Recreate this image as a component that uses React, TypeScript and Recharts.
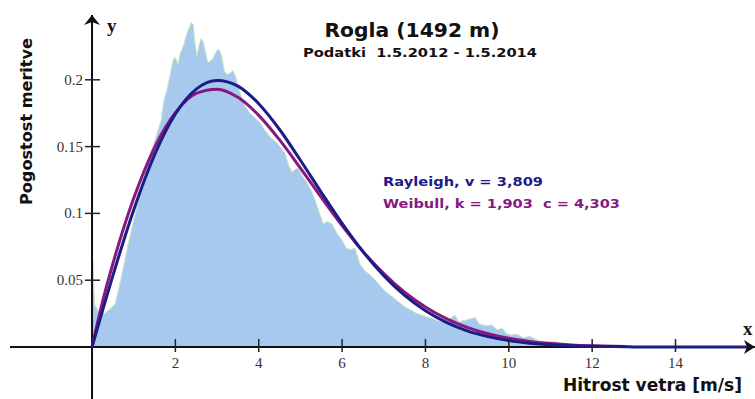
import { ComposedChart, Area, Line, XAxis, YAxis, ReferenceLine, ReferenceDot } from 'recharts';

// measured wind speed histogram (m/s -> relative frequency)
const HIST_X = [
  0, 0.02, 0.06, 0.15, 0.3, 0.45, 0.55, 0.63, 0.7, 0.78, 0.86, 0.95, 1.03, 1.1, 1.18, 1.26, 1.34, 1.42, 1.5, 1.58,
  1.66, 1.72, 1.8, 1.88, 1.95, 2.0, 2.06, 2.12, 2.2, 2.26, 2.32, 2.38, 2.43, 2.47, 2.52, 2.57, 2.62, 2.67, 2.72, 2.78,
  2.84, 2.9, 2.96, 3.02, 3.08, 3.13, 3.18, 3.25, 3.31, 3.38, 3.44, 3.5, 3.56, 3.62, 3.7, 3.79, 3.9, 4.03, 4.15, 4.28,
  4.4, 4.51, 4.63, 4.72, 4.8, 4.88, 4.94, 5.05, 5.18, 5.28, 5.35, 5.45, 5.55, 5.65, 5.76, 5.88, 6.0, 6.1, 6.2, 6.31,
  6.43, 6.55, 6.67, 6.8, 6.91, 7.03, 7.15, 7.27, 7.39, 7.51, 7.63, 7.8, 8.04, 8.2, 8.35, 8.55, 8.7, 8.8, 8.95, 9.07,
  9.19, 9.3, 9.45, 9.6, 9.72, 9.84, 9.95, 10.05, 10.2, 10.35, 10.5, 10.7, 10.9, 11.16, 11.4, 11.7, 12.0, 12.2,
];
const HIST_Y = [
  0, 0.064, 0.032, 0.027, 0.025, 0.029, 0.032, 0.042, 0.052, 0.064, 0.076, 0.088, 0.099, 0.108, 0.119, 0.129, 0.138, 0.147, 0.154, 0.162,
  0.17, 0.184, 0.193, 0.205, 0.215, 0.217, 0.212, 0.22, 0.226, 0.233, 0.238, 0.243, 0.241, 0.228, 0.218, 0.226, 0.231, 0.228, 0.221, 0.213,
  0.214, 0.216, 0.22, 0.223, 0.221, 0.215, 0.206, 0.204, 0.205, 0.207, 0.203, 0.196, 0.19, 0.183, 0.179, 0.175, 0.172, 0.168, 0.162, 0.157,
  0.154, 0.15, 0.145, 0.136, 0.131, 0.133, 0.134, 0.128, 0.122, 0.116, 0.11, 0.101, 0.092, 0.094, 0.092, 0.085, 0.08, 0.074, 0.073, 0.074,
  0.062, 0.057, 0.054, 0.05, 0.046, 0.042, 0.039, 0.036, 0.033, 0.03, 0.028, 0.025, 0.0225, 0.021, 0.019, 0.02, 0.024, 0.019, 0.02, 0.021,
  0.022, 0.017, 0.016, 0.0165, 0.013, 0.014, 0.01, 0.009, 0.0095, 0.007, 0.008, 0.005, 0.004, 0.0037, 0.002, 0.0015, 0.001, 0,
];

// fitted curves
const CURVE_X = [
  0, 0.25, 0.5, 1, 1.5, 2, 2.5, 3, 3.5, 4, 4.5, 5, 5.5, 6, 6.5, 7, 7.5, 8, 8.5, 9, 9.5, 10, 10.5, 11, 11.5, 12, 12.5,
  12.8, 13, 14, 15, 15.8,
];
const RAYLEIGH_Y = [
  0, 0.027, 0.0534, 0.1026, 0.1438, 0.1744, 0.193, 0.1995, 0.1953, 0.1821, 0.1628, 0.1398, 0.1158, 0.0925, 0.0714, 0.0534,
  0.0386, 0.0271, 0.0184, 0.0121, 0.0078, 0.0048, 0.0029, 0.0017, 0.001, 0.0005, 0.0003, 0.0002, 0.0001, 0, 0, 0,
];
const WEIBULL_Y = [
  0, 0.0337, 0.0623, 0.1113, 0.1493, 0.1754, 0.1898, 0.193, 0.1869, 0.1734, 0.155, 0.1339, 0.112, 0.0909, 0.0716, 0.055,
  0.041, 0.0299, 0.0212, 0.0147, 0.0099, 0.0065, 0.0042, 0.0026, 0.0016, 0.001, 0.0006, 0.0004, null, null, null, null,
];

const X_TICKS = [2, 4, 6, 8, 10, 12, 14];
const Y_TICKS = [0.05, 0.1, 0.15, 0.2];
const Y_TICK_LABELS = ['0.05', '0.1', '0.15', '0.2'];

const X_DOMAIN = [-1.968, 15.907];
const Y_DOMAIN = [-0.0389, 0.2485];

const NAVY = '#1c1c86';
const PURPLE = '#86187f';

const buildRows = () => {
  const rows = new Map<number, any>();
  const put = (x: number, key: string, v: number | null) => {
    if (v === null) return;
    const r = rows.get(x) ?? { x };
    r[key] = v;
    rows.set(x, r);
  };
  HIST_X.forEach((x, i) => put(x, 'hist', HIST_Y[i]));
  CURVE_X.forEach((x, i) => {
    put(x, 'ray', RAYLEIGH_Y[i]);
    put(x, 'wei', WEIBULL_Y[i]);
  });
  return [...rows.values()].sort((a, b) => a.x - b.x);
};

const data = buildRows();

const serif = '"Liberation Serif", "Times New Roman", serif';
const sans = '"DejaVu Sans", Verdana, sans-serif';

const XTick = (label: string) => (p: any) => (
  <g>
    <line x1={p.cx} x2={p.cx} y1={p.cy - 8} y2={p.cy + 5} stroke="#222" strokeWidth={1.5} />
    <text x={p.cx} y={p.cy + 21} textAnchor="middle" fontFamily={serif} fontSize={15} fill="#333">
      {label}
    </text>
  </g>
);

const YTick = (label: string) => (p: any) => (
  <g>
    <line x1={p.cx - 7} x2={p.cx + 8} y1={p.cy} y2={p.cy} stroke="#222" strokeWidth={1.5} />
    <text x={p.cx - 9} y={p.cy + 5} textAnchor="end" fontFamily={serif} fontSize={15} fill="#333">
      {label}
    </text>
  </g>
);

const UpArrow = (p: any) => (
  <polygon
    points={`${p.cx},${p.cy} ${p.cx - 8},${p.cy + 10} ${p.cx},${p.cy + 7} ${p.cx + 8},${p.cy + 10}`}
    fill="#111"
  />
);

const RightArrow = (p: any) => (
  <polygon
    points={`${p.cx},${p.cy} ${p.cx - 11},${p.cy - 7} ${p.cx - 8},${p.cy} ${p.cx - 11},${p.cy + 7}`}
    fill="#111"
  />
);

const App = () => {
  return (
    <div style={{ position: 'fixed', left: 0, top: 0, width: 755, height: 399, background: '#fff' }}>
      <ComposedChart width={755} height={399} data={data} margin={{ top: 15, right: 0, bottom: 0, left: 10 }}>
        <XAxis type="number" dataKey="x" domain={X_DOMAIN} allowDataOverflow hide />
        <YAxis type="number" domain={Y_DOMAIN} allowDataOverflow hide />
        <Area
          dataKey="hist"
          type="linear"
          baseValue={0}
          fill="#a7c9ee"
          fillOpacity={1}
          stroke="#cfe6c6"
          strokeWidth={1}
          connectNulls
          isAnimationActive={false}
        />
        <ReferenceLine y={0} stroke="#111" strokeWidth={2} />
        <ReferenceLine x={0} stroke="#111" strokeWidth={2} />
        <Line dataKey="wei" type="monotone" stroke={PURPLE} strokeWidth={3} dot={false} connectNulls isAnimationActive={false} />
        <Line dataKey="ray" type="monotone" stroke={NAVY} strokeWidth={3} dot={false} connectNulls isAnimationActive={false} />
        {X_TICKS.map((t) => (
          <ReferenceDot key={`xt-${t}`} x={t} y={0} r={0} ifOverflow="visible" shape={XTick(String(t))} />
        ))}
        {Y_TICKS.map((t, i) => (
          <ReferenceDot key={`yt-${t}`} x={0} y={t} r={0} ifOverflow="visible" shape={YTick(Y_TICK_LABELS[i])} />
        ))}
        <ReferenceDot x={0} y={Y_DOMAIN[1]} r={0} ifOverflow="visible" shape={UpArrow} />
        <ReferenceDot x={X_DOMAIN[1]} y={0} r={0} ifOverflow="visible" shape={RightArrow} />
      </ComposedChart>
      <svg width={755} height={399} style={{ position: 'absolute', left: 0, top: 0, pointerEvents: 'none' }}>
        <text x={412} y={37.3} textAnchor="middle" fontFamily={sans} fontWeight="bold" fontSize={19} fill="#111" textLength={175} lengthAdjust="spacingAndGlyphs">
          Rogla (1492 m)
        </text>
        <text x={303} y={56.7} fontFamily={sans} fontWeight="bold" fontSize={12.5} fill="#111" textLength={234} lengthAdjust="spacingAndGlyphs" style={{ whiteSpace: 'pre' }}>
          Podatki  1.5.2012 - 1.5.2014
        </text>
        <text x={383} y={186} fontFamily={sans} fontWeight="bold" fontSize={12.5} fill={NAVY} textLength={160} lengthAdjust="spacingAndGlyphs">
          Rayleigh, v = 3,809
        </text>
        <text x={383} y={208} fontFamily={sans} fontWeight="bold" fontSize={12.5} fill={PURPLE} textLength={237} lengthAdjust="spacingAndGlyphs" style={{ whiteSpace: 'pre' }}>
          Weibull, k = 1,903  c = 4,303
        </text>
        <text
          x={31.7}
          y={121.5}
          transform="rotate(-90 31.7 121.5)"
          textAnchor="middle"
          fontFamily={sans}
          fontWeight="bold"
          fontSize={16}
          fill="#111"
          textLength={167}
          lengthAdjust="spacingAndGlyphs"
        >
          Pogostost meritve
        </text>
        <text x={563} y={391} fontFamily={sans} fontWeight="bold" fontSize={17} fill="#111" textLength={179} lengthAdjust="spacingAndGlyphs">
          Hitrost vetra [m/s]
        </text>
        <text x={107} y={31.5} fontFamily={serif} fontWeight="bold" fontSize={19} fill="#111">
          y
        </text>
        <text x={743} y={335} fontFamily={serif} fontWeight="bold" fontSize={19} fill="#111">
          x
        </text>
      </svg>
    </div>
  );
};

export default App;
